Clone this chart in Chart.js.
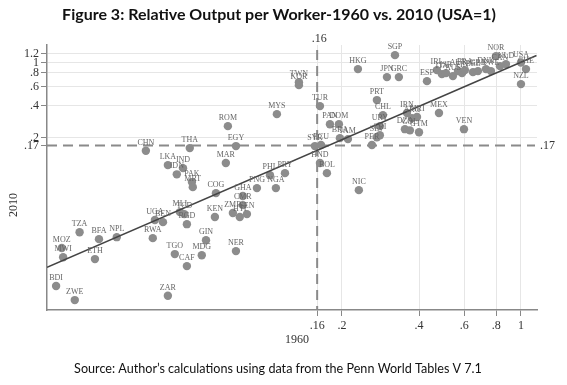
<!DOCTYPE html>
<html>
<head>
<meta charset="utf-8">
<script src="https://cdn.jsdelivr.net/npm/chart.js@4.4.1/dist/chart.umd.min.js"></script>
<style>
  html, body { margin: 0; padding: 0; background: #fff; }
  #wrap { width: 567px; height: 385px; position: relative; }
</style>
</head>
<body>
<div id="wrap"><canvas id="myChart" width="567" height="385"></canvas></div>
<script>
// country codes, output per worker relative to USA in 1960 and 2010
const countries = [
  "CHN","THA","LKA","IND","IDN","PAK","MRT","COG","KEN","MLI","TCD","UGA","BEN","BGD","RWA",
  "TZA","BFA","NPL","MOZ","MWI","ETH","BDI","ZWE","ZAR","TGO","CAF","MDG","GIN","NER","MAR",
  "EGY","ROM","MYS","TWN","KOR","HKG","TUR","SYR","ECU","HND","BOL","NIC","PAN","DOM","BRA",
  "JAM","PRT","CHL","URY","SLV","CRI","PER","IRN","ARG","MRI","DZA","COL","GTM","MEX","VEN",
  "SGP","JPN","GRC","ESP","IRL","ITA","ISR","AUS","AUT","FIN","FRA","BEL","GBR","DNK","SWE",
  "CAN","NLD","NOR","USA","CHE","NZL","GHA","CMR","ZMB","SEN","HTI","PHL","PRY","PNG","NGA"
];
const out1960 = [
  0.0343,0.0509,0.0418,0.0479,0.0453,0.0519,0.0523,0.0644,0.0638,0.0466,0.0485,0.0372,0.0400,0.0496,0.0365,
  0.0189,0.0225,0.0264,0.0161,0.0163,0.0217,0.0153,0.0181,0.0418,0.0445,0.0496,0.0567,0.0589,0.0771,0.0704,
  0.0771,0.0717,0.1114,0.1358,0.1358,0.2309,0.1641,0.1568,0.1656,0.1641,0.1747,0.2328,0.1795,0.1946,0.1963,
  0.2110,0.2738,0.2890,0.2812,0.2738,0.2812,0.2618,0.3587,0.3752,0.3926,0.3523,0.3685,0.3998,0.4784,0.5989,
  0.3221,0.2997,0.3336,0.4295,0.4697,0.4912,0.5094,0.5423,0.5675,0.5886,0.6040,0.6494,0.6792,0.7301,0.7636,
  0.8278,0.8737,0.7987,1.0,1.046,1.0,0.0820,0.0820,0.0750,0.0851,0.0798,0.1047,0.1198,0.0931,0.1104
];
const out2010 = [
  0.152,0.161,0.112,0.105,0.092,0.078,0.070,0.0616,0.037,0.0411,0.0394,0.0347,0.0332,0.0318,0.0236,
  0.0268,0.0231,0.0241,0.0191,0.0157,0.0151,0.0085,0.0063,0.0069,0.0168,0.0130,0.0164,0.0226,0.0179,0.117,
  0.168,0.257,0.332,0.657,0.616,0.867,0.394,0.168,0.172,0.117,0.0944,0.0657,0.268,0.268,0.199,
  0.195,0.448,0.325,0.257,0.203,0.212,0.172,0.340,0.305,0.312,0.241,0.235,0.226,0.340,0.241,
  1.168,0.731,0.731,0.671,0.849,0.779,0.796,0.747,0.831,0.796,0.849,0.813,0.831,0.867,0.831,
  0.924,0.965,1.144,1.0,0.867,0.630,0.058,0.0477,0.0403,0.0394,0.0370,0.0904,0.0944,0.0686,0.0686
];

// fitted line end points
const fitX = [0.0141, 1.15];
const fitY = [0.0127, 1.16];

const xTicks = [0.16, 0.2, 0.4, 0.6, 0.8, 1];
const yTicks = [0.17, 0.2, 0.4, 0.6, 0.8, 1, 1.2];
const refX = 0.16;
const refY = 0.17;

const titleText = "Figure 3: Relative Output per Worker-1960 vs. 2010 (USA=1)";
const sourceText = "Source: Author\u2019s calculations using data from the Penn World Tables V 7.1";

const serif = '"Liberation Serif", "DejaVu Serif", serif';
const fmt = v => (v < 1 ? String(v).replace(/^0/, '') : String(v));

const points = countries.map((c, i) => ({x: out1960[i], y: out2010[i], code: c}));

const extras = {
  id: 'extras',
  beforeDatasetsDraw(chart) {
    const {ctx, chartArea: a, scales: {x, y}} = chart;
    const px = x.getPixelForValue(refX);
    const py = y.getPixelForValue(refY);
    ctx.save();
    ctx.strokeStyle = '#8a8a8a';
    ctx.lineWidth = 2;
    ctx.setLineDash([10, 6]);
    ctx.beginPath();
    ctx.moveTo(a.left, py);
    ctx.lineTo(a.right - 2, py);
    ctx.moveTo(px, a.top + 5);
    ctx.lineTo(px, a.bottom);
    ctx.stroke();
    ctx.restore();
  },
  afterDatasetsDraw(chart) {
    const {ctx, scales: {x, y}} = chart;
    ctx.save();
    ctx.fillStyle = '#666';
    ctx.font = '8px ' + serif;
    ctx.textAlign = 'center';
    ctx.textBaseline = 'bottom';
    points.forEach(p => {
      ctx.fillText(p.code, x.getPixelForValue(p.x), y.getPixelForValue(p.y) - 4);
    });
    ctx.restore();
  },
  afterDraw(chart) {
    const {ctx, chartArea: a, scales: {x, y}} = chart;
    ctx.save();
    ctx.fillStyle = '#333';
    ctx.font = '12px ' + serif;
    ctx.textBaseline = 'middle';
    ctx.textAlign = 'center';
    ctx.fillText(fmt(refX), x.getPixelForValue(refX) + 2, 39);
    ctx.textAlign = 'left';
    ctx.fillText(fmt(refY), a.right + 3, y.getPixelForValue(refY));
    ctx.textAlign = 'center';
    ctx.fillText('1960', 297, 340);
    ctx.save();
    ctx.translate(14, 205);
    ctx.rotate(-Math.PI / 2);
    ctx.fillText('2010', 0, 0);
    ctx.restore();
    ctx.fillStyle = '#111';
    ctx.font = 'bold 16px Lato, "DejaVu Sans", sans-serif';
    ctx.fillText(titleText, 279, 15);
    ctx.font = '12.6px Lato, "DejaVu Sans", sans-serif';
    ctx.fillText(sourceText, 278, 369);
    ctx.restore();
  }
};

new Chart("myChart", {
  type: "scatter",
  data: {
    datasets: [{
      type: "line",
      data: fitX.map((v, i) => ({x: v, y: fitY[i]})),
      borderColor: "#444",
      borderWidth: 1.5,
      pointRadius: 0,
      fill: false,
      order: 0
    }, {
      data: points,
      backgroundColor: "#8c8c8c",
      borderWidth: 0,
      pointRadius: 4.2,
      order: 1
    }]
  },
  options: {
    responsive: false,
    animation: false,
    layout: {padding: {top: 45, right: 30, bottom: 45, left: 0}},
    plugins: {legend: {display: false}, tooltip: {enabled: false}},
    scales: {
      x: {
        type: "logarithmic",
        min: 0.0141,
        max: 1.155,
        afterBuildTicks: s => { s.ticks = xTicks.map(v => ({value: v})); },
        afterFit: s => { s.height = 30; },
        ticks: {
          callback: v => fmt(v),
          font: {family: serif, size: 12},
          color: "#333",
          padding: 3,
          maxRotation: 0,
          autoSkip: false
        },
        grid: {
          color: "#e6e6e6",
          lineWidth: 1,
          tickColor: "#888",
          tickLength: 6
        },
        border: {color: "#888", width: 1.5}
      },
      y: {
        type: "logarithmic",
        min: 0.0051,
        max: 1.45,
        afterBuildTicks: s => { s.ticks = yTicks.map(v => ({value: v})); },
        afterFit: s => { s.width = 47; },
        ticks: {
          callback: v => fmt(v),
          font: {family: serif, size: 12},
          color: "#333",
          padding: 2,
          autoSkip: false
        },
        grid: {
          color: c => (c.tick && c.tick.value === refY ? "rgba(0,0,0,0)" : "#e6e6e6"),
          lineWidth: 1,
          tickColor: "#888",
          tickLength: 6
        },
        border: {color: "#888", width: 1.5}
      }
    }
  },
  plugins: [extras]
});
</script>
</body>
</html>
